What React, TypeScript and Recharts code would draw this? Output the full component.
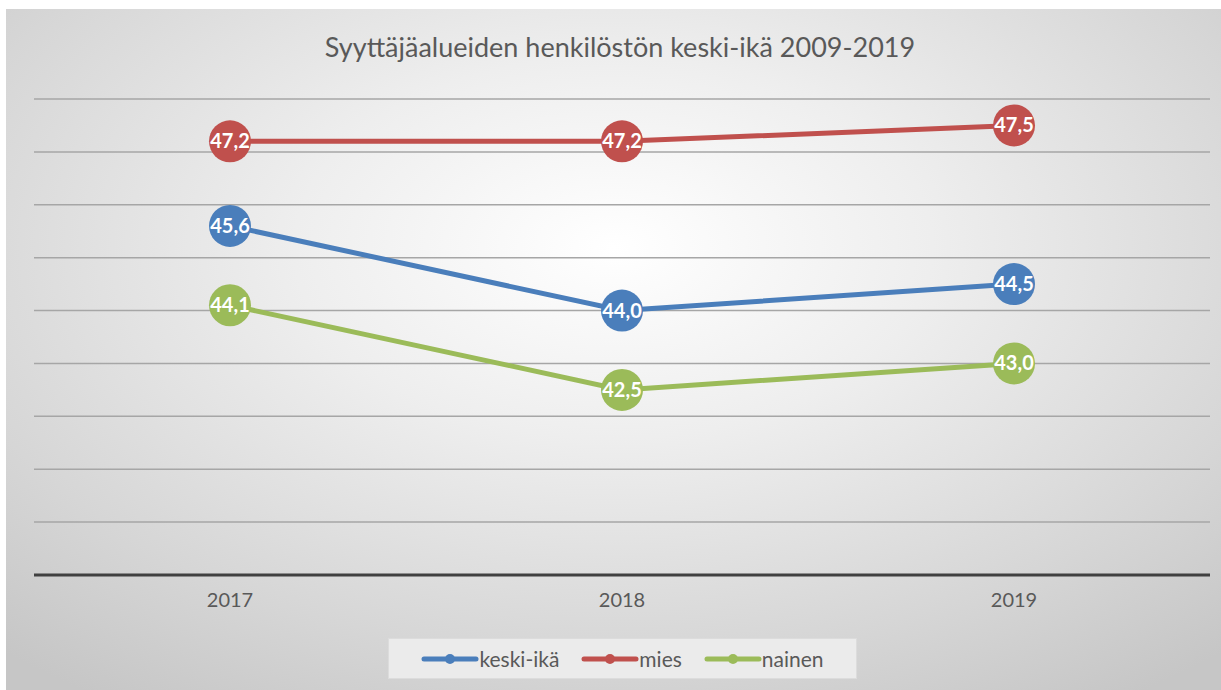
import React from "react";
import {
  LineChart,
  Line,
  XAxis,
  YAxis,
  CartesianGrid,
  LabelList,
} from "recharts";

// Vuodet ja keski-iät (luettu kuvasta)
const vuodet = ["2017", "2018", "2019"];
const keskiIka = [45.6, 44.0, 44.5];
const mies = [47.2, 47.2, 47.5];
const nainen = [44.1, 42.5, 43.0];
const yTicks = [39, 40, 41, 42, 43, 44, 45, 46, 47, 48];

const sarjat = [
  { key: "keskiIka", name: "keski-ikä", color: "#4a7ebb" },
  { key: "mies", name: "mies", color: "#c0504d" },
  { key: "nainen", name: "nainen", color: "#9bbb59" },
];

const data = vuodet.map((v, i) => ({
  vuosi: v,
  keskiIka: keskiIka[i],
  mies: mies[i],
  nainen: nainen[i],
}));

const FONT = "Lato, 'Open Sans', sans-serif";

function Pallo(props: any) {
  const { cx, cy, fill } = props;
  if (cx == null || cy == null) return null;
  return <circle cx={cx} cy={cy} r={21} fill={fill} />;
}

function Arvo(props: any) {
  const { x, y, value } = props;
  return (
    <text
      x={x}
      y={y}
      dy={7}
      textAnchor="middle"
      fill="#ffffff"
      fontSize={20}
      fontWeight={700}
      fontFamily={FONT}
    >
      {Number(value).toFixed(1).replace(".", ",")}
    </text>
  );
}

function Selite() {
  return (
    <div
      style={{
        position: "absolute",
        left: 388,
        top: 638,
        width: 467,
        height: 39,
        background: "#ebebeb",
        border: "1px solid #dcdcdc",
        display: "flex",
        alignItems: "center",
        justifyContent: "center",
        gap: 22,
        fontFamily: FONT,
        fontSize: 21,
        color: "#595959",
      }}
    >
      {sarjat.map((s) => (
        <span key={s.key} style={{ display: "flex", alignItems: "center" }}>
          <svg width={58} height={12}>
            <line x1={3} y1={6} x2={55} y2={6} stroke={s.color} strokeWidth={5} strokeLinecap="round" />
            <circle cx={29} cy={6} r={5} fill={s.color} />
          </svg>
          {s.name}
        </span>
      ))}
    </div>
  );
}

export default function App() {
  return (
    <div style={{ position: "absolute", left: 0, top: 0, width: 1221, height: 690, background: "#ffffff" }}>
      <div
        style={{
          position: "absolute",
          left: 6,
          top: 9,
          width: 1215,
          height: 681,
          background:
            "radial-gradient(ellipse 75% 80% at 50% 35%, #ffffff 0%, #eeeeee 35%, #d6d6d6 75%, #c6c6c6 100%)",
        }}
      />
      <div
        style={{
          position: "absolute",
          left: 0,
          top: 30,
          width: 1240,
          textAlign: "center",
          fontFamily: FONT,
          fontSize: 27,
          color: "#595959",
        }}
      >
        Syyttäjäalueiden henkilöstön keski-ikä 2009-2019
      </div>
      <div style={{ position: "absolute", left: 0, top: 0 }}>
        <LineChart
          width={1221}
          height={690}
          data={data}
          margin={{ top: 99, right: 11, left: 34, bottom: 85 }}
        >
          <CartesianGrid
            horizontal
            vertical={false}
            stroke="#a6a6a6"
            strokeWidth={1.5}
          />
          <XAxis
            dataKey="vuosi"
            height={30}
            padding={{ left: 196, right: 196 }}
            axisLine={{ stroke: "#404040", strokeWidth: 3 }}
            tickLine={false}
            tickMargin={12}
            tick={{ fontSize: 20, fill: "#595959", fontFamily: FONT }}
          />
          <YAxis hide domain={[39, 48]} ticks={yTicks} width={0} />
          {sarjat.map((s) => (
            <Line
              key={s.key}
              dataKey={s.key}
              name={s.name}
              type="linear"
              stroke={s.color}
              strokeWidth={5}
              fill={s.color}
              dot={<Pallo fill={s.color} />}
              activeDot={false}
              isAnimationActive={false}
            >
              <LabelList dataKey={s.key} content={<Arvo />} />
            </Line>
          ))}
        </LineChart>
      </div>
      <Selite />
    </div>
  );
}
